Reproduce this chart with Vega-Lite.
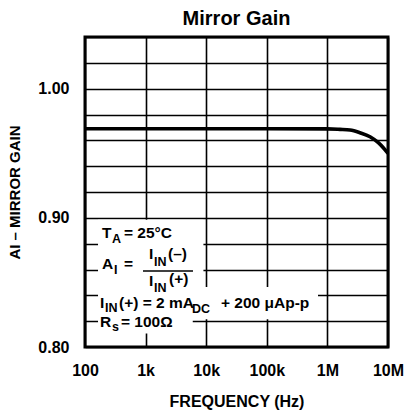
{
  "$schema": "https://vega.github.io/schema/vega-lite/v6.json",
  "width": 303,
  "height": 310,
  "autosize": {"type": "none"},
  "padding": {"left": 85, "top": 37, "right": 18, "bottom": 63},
  "background": "white",
  "title": {"text": "Mirror Gain", "font": "Liberation Sans", "fontSize": 20, "fontWeight": "bold", "color": "black", "anchor": "middle", "offset": 0},
  "config": {"view": {"stroke": "black", "strokeWidth": 3}, "font": "Liberation Sans"},
  "datasets": {
    "curve": [
      {"f": 100, "g": 0.969},
      {"f": 1000, "g": 0.969},
      {"f": 10000, "g": 0.969},
      {"f": 100000, "g": 0.969},
      {"f": 1000000, "g": 0.9689},
      {"f": 1610000, "g": 0.9685},
      {"f": 2360000, "g": 0.968},
      {"f": 3450000, "g": 0.9659},
      {"f": 5050000, "g": 0.9628},
      {"f": 6920000, "g": 0.9582},
      {"f": 8360000, "g": 0.9543},
      {"f": 10000000, "g": 0.95}
    ],
    "mask": [
      {"f": 164, "f2": 9000, "g": 0.8465, "g2": 0.8985},
      {"f": 164, "f2": 700000, "g": 0.8215, "g2": 0.8465},
      {"f": 164, "f2": 6000, "g": 0.8105, "g2": 0.8215}
    ],
    "bar": [
      {"f": 906, "f2": 6053, "g": 0.8588}
    ],
    "main": [
      {"t": "T", "f": 190.8, "g": 0.8844},
      {"t": "= 25°C", "f": 440, "g": 0.8844},
      {"t": "A", "f": 190.8, "g": 0.8604},
      {"t": "=", "f": 440, "g": 0.8604},
      {"t": "I", "f": 1138, "g": 0.8681},
      {"t": "(–)", "f": 2342, "g": 0.8681},
      {"t": "I", "f": 1138, "g": 0.8472},
      {"t": "(+)", "f": 2433, "g": 0.8488},
      {"t": "I", "f": 176.8, "g": 0.8302},
      {"t": "(+) = 2 mA", "f": 363.9, "g": 0.8302},
      {"t": "+ 200 μAp-p", "f": 17540, "g": 0.8302},
      {"t": "R", "f": 176.8, "g": 0.8155},
      {"t": "= 100Ω", "f": 392.6, "g": 0.8155}
    ],
    "sub": [
      {"t": "A", "f": 279, "g": 0.8805},
      {"t": "I", "f": 301, "g": 0.8565},
      {"t": "IN", "f": 1376, "g": 0.8627},
      {"t": "IN", "f": 1376, "g": 0.8426},
      {"t": "IN", "f": 213.8, "g": 0.8271},
      {"t": "DC", "f": 5832, "g": 0.8263},
      {"t": "s", "f": 279, "g": 0.8124}
    ]
  },
  "encoding": {
    "x": {
      "field": "f", "type": "quantitative",
      "scale": {"type": "log", "domain": [100, 10000000], "nice": false},
      "axis": {
        "title": "FREQUENCY (Hz)",
        "values": [100, 1000, 10000, 100000, 1000000, 10000000],
        "grid": true, "gridColor": "black", "gridWidth": 1.6, "gridOpacity": 1,
        "ticks": false, "domain": false,
        "labelExpr": "datum.value >= 1000000 ? format(round(datum.value/1000000),'d') + 'M' : datum.value >= 1000 ? format(round(datum.value/1000),'d') + 'k' : format(round(datum.value),'d')",
        "labelFont": "Liberation Sans", "labelFontWeight": "bold", "labelFontSize": 16, "labelColor": "black",
        "labelPadding": 15, "labelFlush": false, "labelOverlap": false, "labelBound": false,
        "titleFont": "Liberation Sans", "titleFontWeight": "bold", "titleFontSize": 16, "titleColor": "black", "titlePadding": 15
      }
    },
    "y": {
      "field": "g", "type": "quantitative",
      "scale": {"domain": [0.8, 1.04], "nice": false, "zero": false},
      "axis": {
        "title": "AI – MIRROR GAIN",
        "values": [0.8, 0.82, 0.84, 0.86, 0.88, 0.9, 0.92, 0.94, 0.96, 0.98, 1.0, 1.02, 1.04],
        "grid": true, "gridColor": "black", "gridWidth": 1.6, "gridOpacity": 1,
        "ticks": false, "domain": false,
        "labelExpr": "(abs(datum.value - 0.8) < 0.001 || abs(datum.value - 0.9) < 0.001 || abs(datum.value - 1) < 0.001) ? format(datum.value, '.2f') : ''",
        "labelFont": "Liberation Sans", "labelFontWeight": "bold", "labelFontSize": 16, "labelColor": "black",
        "labelPadding": 16, "labelOverlap": false, "labelBound": false,
        "titleFont": "Liberation Sans", "titleFontWeight": "bold", "titleFontSize": 15, "titleColor": "black", "titlePadding": 15
      }
    }
  },
  "layer": [
    {
      "data": {"name": "mask"},
      "mark": {"type": "rect", "fill": "white", "strokeWidth": 0},
      "encoding": {"x2": {"field": "f2"}, "y2": {"field": "g2"}}
    },
    {
      "data": {"name": "bar"},
      "mark": {"type": "rule", "color": "black", "strokeWidth": 1.5},
      "encoding": {"x2": {"field": "f2"}}
    },
    {
      "data": {"name": "main"},
      "mark": {"type": "text", "align": "left", "baseline": "alphabetic", "font": "Liberation Sans", "fontWeight": "bold", "fontSize": 15.5, "color": "black"},
      "encoding": {"text": {"field": "t", "type": "nominal"}}
    },
    {
      "data": {"name": "sub"},
      "mark": {"type": "text", "align": "left", "baseline": "alphabetic", "font": "Liberation Sans", "fontWeight": "bold", "fontSize": 12.5, "color": "black"},
      "encoding": {"text": {"field": "t", "type": "nominal"}}
    },
    {
      "data": {"name": "curve"},
      "mark": {"type": "line", "color": "black", "strokeWidth": 3.6, "interpolate": "monotone", "clip": true},
      "encoding": {}
    }
  ]
}
